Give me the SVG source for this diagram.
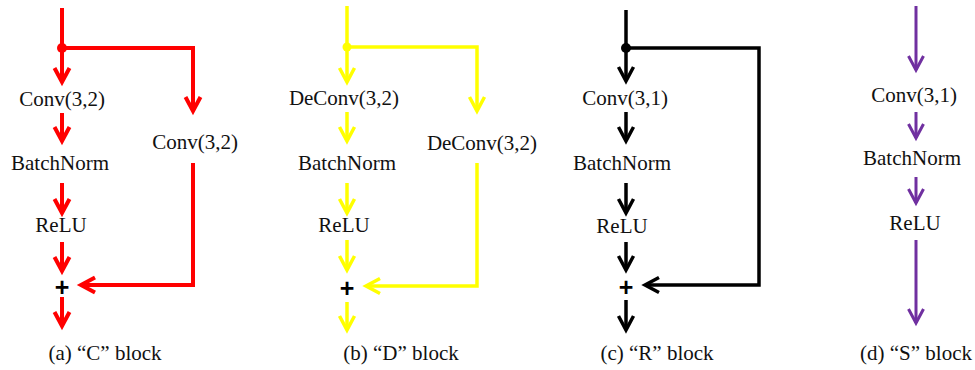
<svg xmlns="http://www.w3.org/2000/svg" width="975" height="370" viewBox="0 0 975 370">
<style>
text{font-family:"Liberation Serif","Times New Roman",serif;font-size:21px;fill:#111;text-anchor:middle}
.plus{font-family:"Liberation Sans",Arial,sans-serif;font-size:25px;font-weight:bold;fill:#000}
.r{stroke:#ff0000;stroke-width:4;fill:none}
.y{stroke:#ffff00;stroke-width:3.5;fill:none}
.k{stroke:#000;stroke-width:3.5;fill:none}
.p{stroke:#7030a0;stroke-width:3;fill:none}
.r.a{marker-end:url(#mr)}
.y.a{marker-end:url(#my)}
.k.a{marker-end:url(#mk)}
.p.a{marker-end:url(#mp)}
</style>
<defs>
<marker id="mr" markerUnits="userSpaceOnUse" orient="auto" refX="0" refY="0" markerWidth="30" markerHeight="30" overflow="visible"><path d="M-14,-7.5 L0,0 L-14,7.5" fill="none" stroke="#ff0000" stroke-width="4"/></marker>
<marker id="my" markerUnits="userSpaceOnUse" orient="auto" refX="0" refY="0" markerWidth="30" markerHeight="30" overflow="visible"><path d="M-14,-7.5 L0,0 L-14,7.5" fill="none" stroke="#ffff00" stroke-width="3.5"/></marker>
<marker id="mk" markerUnits="userSpaceOnUse" orient="auto" refX="0" refY="0" markerWidth="30" markerHeight="30" overflow="visible"><path d="M-14,-7.5 L0,0 L-14,7.5" fill="none" stroke="#000" stroke-width="3.5"/></marker>
<marker id="mp" markerUnits="userSpaceOnUse" orient="auto" refX="0" refY="0" markerWidth="30" markerHeight="30" overflow="visible"><path d="M-14,-7.5 L0,0 L-14,7.5" fill="none" stroke="#7030a0" stroke-width="3"/></marker>
</defs>
<rect width="975" height="370" fill="#fff"/>

<g id="connectors">
<!-- panel a -->
<path class="r a" d="M62,8 V82"/>
<path class="r a" d="M62,48 H193 V111"/>
<path class="r a" d="M62,113 V141"/>
<path class="r a" d="M62,183 V213"/>
<path class="r a" d="M62,242 V271"/>
<path class="r a" d="M193,163 V285 H81"/>
<path class="r a" d="M62,297 V326"/>
<!-- panel b -->
<path class="y a" d="M347,6 V82"/>
<path class="y a" d="M347,47 H477 V111"/>
<path class="y a" d="M347,112 V141"/>
<path class="y a" d="M347,183 V213"/>
<path class="y a" d="M347,240 V270"/>
<path class="y a" d="M477,163 V286 H366"/>
<path class="y a" d="M347,302 V330"/>
<!-- panel c -->
<path class="k a" d="M626,10 V81"/>
<path class="k a" d="M626,48 H759 V285 H645"/>
<path class="k a" d="M626,112 V141"/>
<path class="k a" d="M626,183 V213"/>
<path class="k a" d="M626,242 V270"/>
<path class="k a" d="M626,300 V330"/>
<!-- panel d -->
<path class="p a" d="M916,6 V70"/>
<path class="p a" d="M916,112 V138"/>
<path class="p a" d="M916,177 V203"/>
<path class="p a" d="M916,240 V323"/>
</g>

<g id="a_split"><circle cx="62" cy="48" r="5" fill="#ff0000"/></g>
<g id="a_conv1"><text x="62" y="106">Conv(3,2)</text></g>
<g id="a_bn"><text x="60" y="170">BatchNorm</text></g>
<g id="a_relu"><text x="61" y="232">ReLU</text></g>
<g id="a_conv2"><text x="195" y="149">Conv(3,2)</text></g>
<g id="a_add"><text class="plus" x="62" y="296">+</text></g>
<g id="a_caption"><text x="105" y="360">(a) “C” block</text></g>

<g id="b_split"><circle cx="347" cy="47" r="4.5" fill="#ffff00"/></g>
<g id="b_deconv1"><text x="344" y="105">DeConv(3,2)</text></g>
<g id="b_bn"><text x="347" y="170">BatchNorm</text></g>
<g id="b_relu"><text x="344" y="232">ReLU</text></g>
<g id="b_deconv2"><text x="482" y="150">DeConv(3,2)</text></g>
<g id="b_add"><text class="plus" x="347" y="297">+</text></g>
<g id="b_caption"><text x="401" y="360">(b) “D” block</text></g>

<g id="c_split"><circle cx="626" cy="48" r="5" fill="#000"/></g>
<g id="c_conv"><text x="625" y="105">Conv(3,1)</text></g>
<g id="c_bn"><text x="622" y="170">BatchNorm</text></g>
<g id="c_relu"><text x="622" y="233">ReLU</text></g>
<g id="c_add"><text class="plus" x="626" y="296">+</text></g>
<g id="c_caption"><text x="657" y="360">(c) “R” block</text></g>

<g id="d_conv"><text x="914" y="102">Conv(3,1)</text></g>
<g id="d_bn"><text x="912" y="165">BatchNorm</text></g>
<g id="d_relu"><text x="915" y="230">ReLU</text></g>
<g id="d_caption"><text x="916" y="360">(d) “S” block</text></g>
</svg>
